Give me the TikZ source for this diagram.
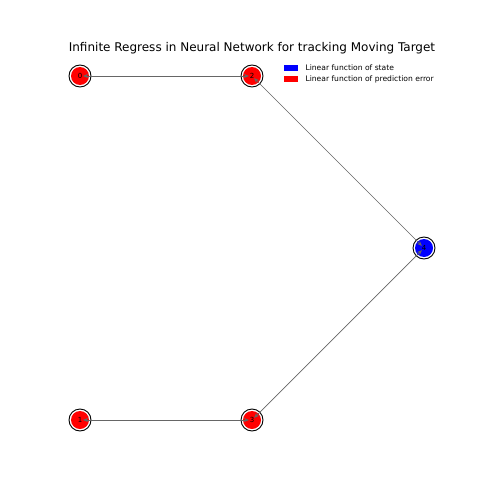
\documentclass[tikz,border=0pt]{standalone}
\usepackage{fontspec}
\setmainfont{DejaVu Sans}
\usetikzlibrary{arrows.meta}
\definecolor{edgegray}{gray}{0.4}
\tikzset{
  statenode/.style={circle, fill=blue, minimum size=18pt, inner sep=0pt, font=\fontsize{7}{7}\selectfont},
  errornode/.style={circle, fill=red, minimum size=18pt, inner sep=0pt, font=\fontsize{7}{7}\selectfont},
  ring/.style={line width=0.9pt, draw=black},
  link/.style={draw=edgegray, line width=0.7pt, {Stealth[length=5pt,width=4pt]}-{Stealth[length=5pt,width=4pt]}, shorten <=3pt, shorten >=3pt},
  legendtext/.style={anchor=west, font=\fontsize{7.6}{7.6}\selectfont},
}
\begin{document}
\begin{tikzpicture}[x=1pt, y=-1pt]
			%%%%% START %%%%%
			
			\fill[white] (0, 0) rectangle (492, 492);
			\useasboundingbox (0, 0) rectangle (492, 492);
			
			\node (title) at (252, 48) {\fontsize{12}{12}\selectfont Infinite Regress in Neural Network for tracking Moving Target};
			
			\node[errornode] (n0) at (80, 76) {0};
			\node[errornode] (n2) at (252, 76) {2};
			\node[statenode] (n4) at (424, 248) {4};
			\node[errornode] (n1) at (80, 420) {1};
			\node[errornode] (n3) at (252, 420) {3};
			
			\foreach \n in {n0, n1, n2, n3, n4}
				\draw[ring] (\n.center) circle (11pt);
			
			\draw[link] (n0.center) -- (n2.center);
			\draw[link] (n2.center) -- (n4.center);
			\draw[link] (n4.center) -- (n3.center);
			\draw[link] (n3.center) -- (n1.center);
			
			\fill[blue] (284, 65) rectangle (298, 71);
			\node[legendtext] (lstate) at (302, 68) {Linear function of state};
			\fill[red] (284, 76) rectangle (298, 82);
			\node[legendtext] (lerror) at (302, 79) {Linear function of prediction error};
			
			%%%%% END %%%%%
\end{tikzpicture}
\end{document}
